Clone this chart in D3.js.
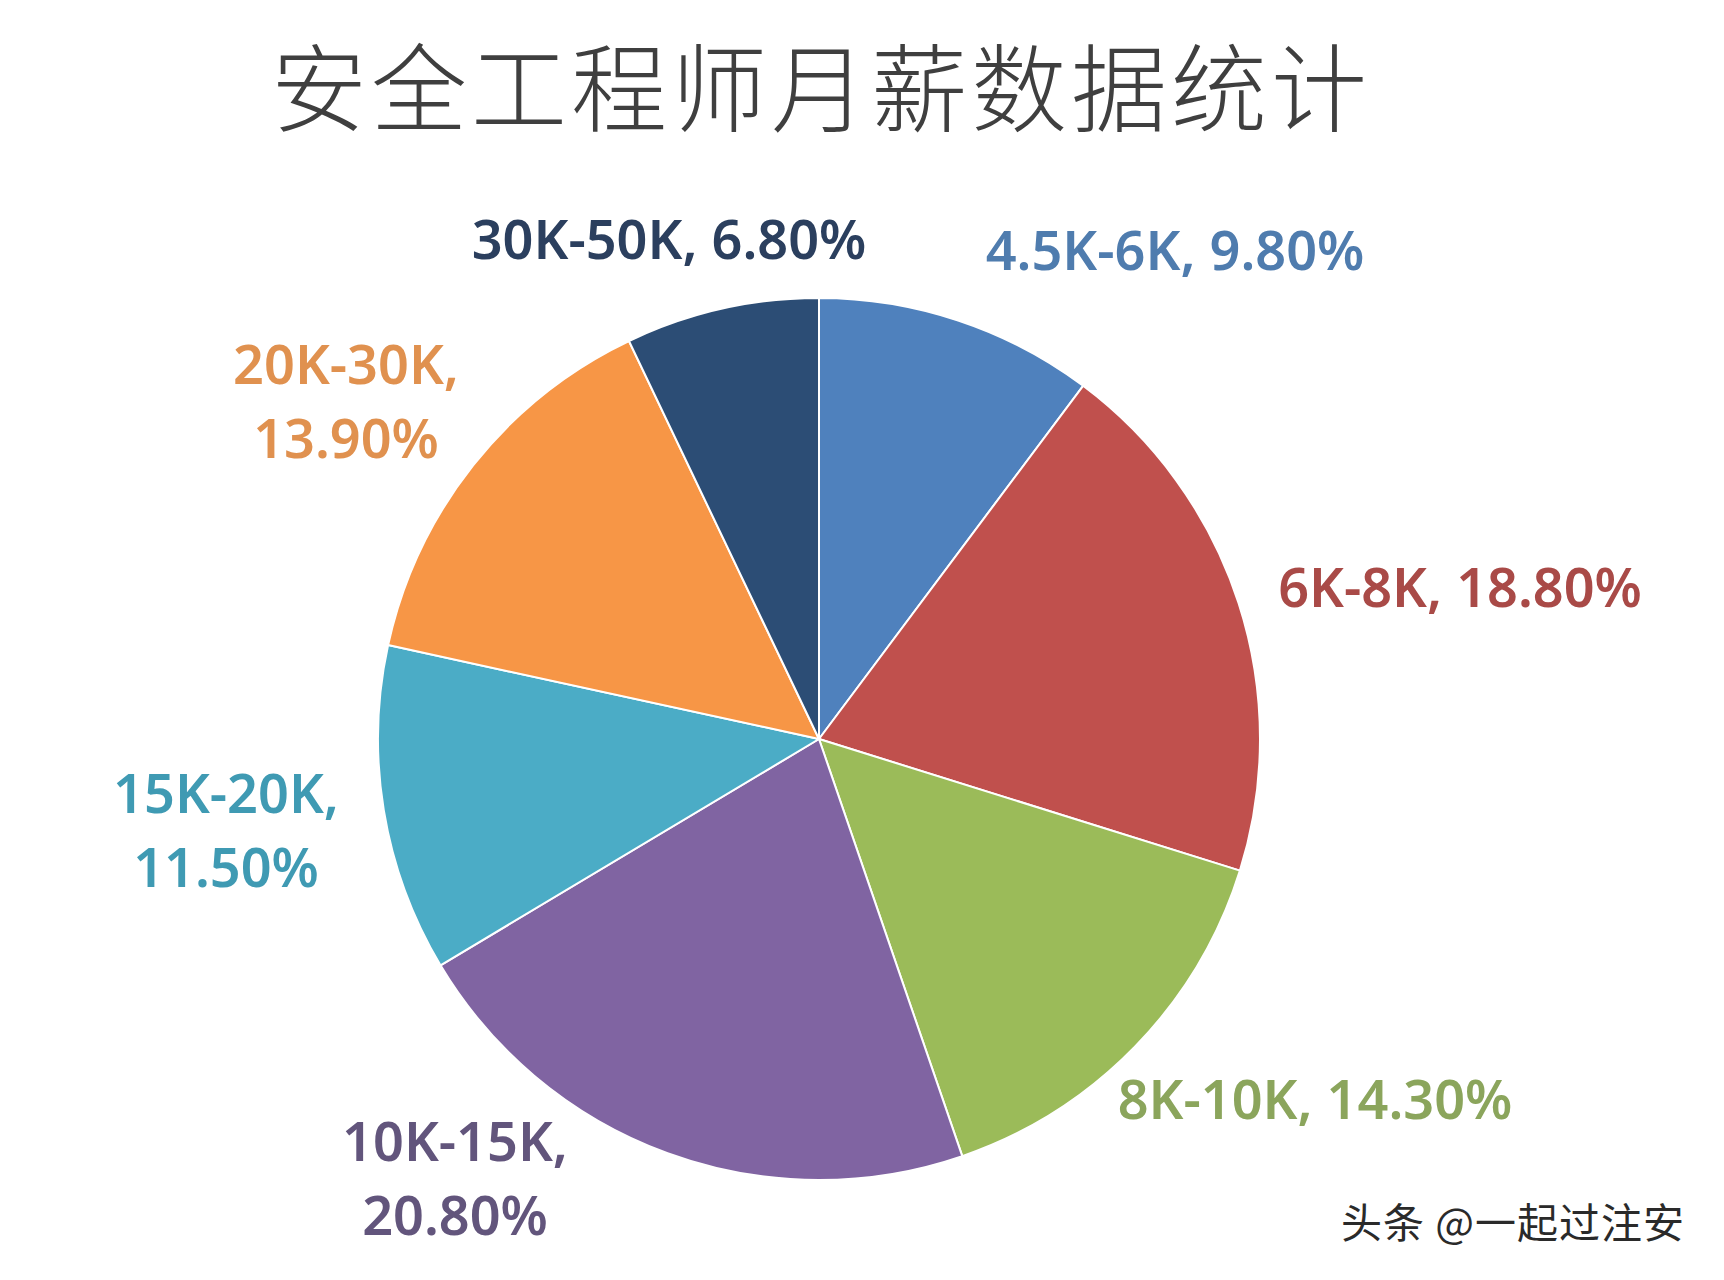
<!DOCTYPE html>
<html>
<head>
<meta charset="utf-8">
<script src="https://cdn.jsdelivr.net/npm/d3@7/dist/d3.min.js"></script>
<style>
  html, body { margin: 0; padding: 0; background: #ffffff; }
  svg { display: block; }
</style>
</head>
<body>
<svg id="chart" width="1724" height="1280"></svg>
<script>
// ---- data ----
const categories = ["4.5K-6K", "6K-8K", "8K-10K", "10K-15K", "15K-20K", "20K-30K", "30K-50K"];
const percents   = [9.8, 18.8, 14.3, 20.8, 11.5, 13.9, 6.8];
const titleText  = "安全工程师月薪数据统计";
const watermark  = "头条 @一起过注安";

// ---- styles / layout ----
const sliceColors = ["#4f81bd", "#c0504d", "#9bbb59", "#8064a2", "#4bacc6", "#f79646", "#2c4d75"];
const labelColors = ["#4f7cae", "#a94a47", "#8ba55c", "#62557c", "#3f9ab3", "#e0914f", "#2b3f5e"];
// label offsets relative to pie centre and line splitting
const labelOffsets = [[356, -488], [641, -151], [496, 361], [-364, 440], [-593, 92], [-473, -337], [-150, -499]];
const labelTwoLine = [false, false, false, true, true, true, false];

const W = 1724, H = 1280;
const cx = 819, cy = 739, R = 441;

const svg = d3.select("#chart");

svg.append("text")
  .attr("x", cx + 2).attr("y", 82)
  .attr("text-anchor", "middle")
  .attr("dominant-baseline", "central")
  .attr("font-family", "'Noto Sans CJK SC', sans-serif")
  .attr("font-weight", 300)
  .attr("font-size", 96)
  .attr("letter-spacing", 4)
  .attr("fill", "#3f3f3f")
  .text(titleText);

const data = categories.map((c, i) => ({ cat: c, value: percents[i], i }));

const pie = d3.pie().value(d => d.value).sort(null);
const arc = d3.arc().innerRadius(0).outerRadius(R);
const arcs = pie(data);

const g = svg.append("g").attr("transform", `translate(${cx},${cy})`);

g.selectAll("path.slice")
  .data(arcs)
  .enter().append("path")
  .attr("class", "slice")
  .attr("d", arc)
  .attr("fill", d => sliceColors[d.data.i])
  .attr("stroke", "#ffffff")
  .attr("stroke-width", 2)
  .attr("stroke-linejoin", "round");

const fmt = v => v.toFixed(2) + "%";

const labels = g.selectAll("text.lbl")
  .data(arcs)
  .enter().append("text")
  .attr("class", "lbl")
  .attr("text-anchor", "middle")
  .attr("font-family", "'Noto Sans', 'Open Sans', sans-serif")
  .attr("font-weight", 600)
  .attr("font-size", 54)
  .attr("fill", d => labelColors[d.data.i])
  .attr("transform", d => `translate(${labelOffsets[d.data.i][0]},${labelOffsets[d.data.i][1]})`);

labels.each(function(d) {
  const t = d3.select(this);
  if (labelTwoLine[d.data.i]) {
    t.append("tspan").attr("x", 0).attr("y", -37).attr("dy", "0.35em").text(d.data.cat + ",");
    t.append("tspan").attr("x", 0).attr("y", 37).attr("dy", "0.35em").text(fmt(d.data.value));
  } else {
    t.append("tspan").attr("x", 0).attr("y", 0).attr("dy", "0.35em").text(d.data.cat + ", " + fmt(d.data.value));
  }
});

svg.append("text")
  .attr("x", 1685).attr("y", 1220)
  .attr("text-anchor", "end")
  .attr("dominant-baseline", "central")
  .attr("font-family", "'Noto Sans CJK SC', sans-serif")
  .attr("font-size", 41)
  .attr("letter-spacing", 1)
  .attr("fill", "#2a2a2a")
  .text(watermark);
</script>
</body>
</html>
